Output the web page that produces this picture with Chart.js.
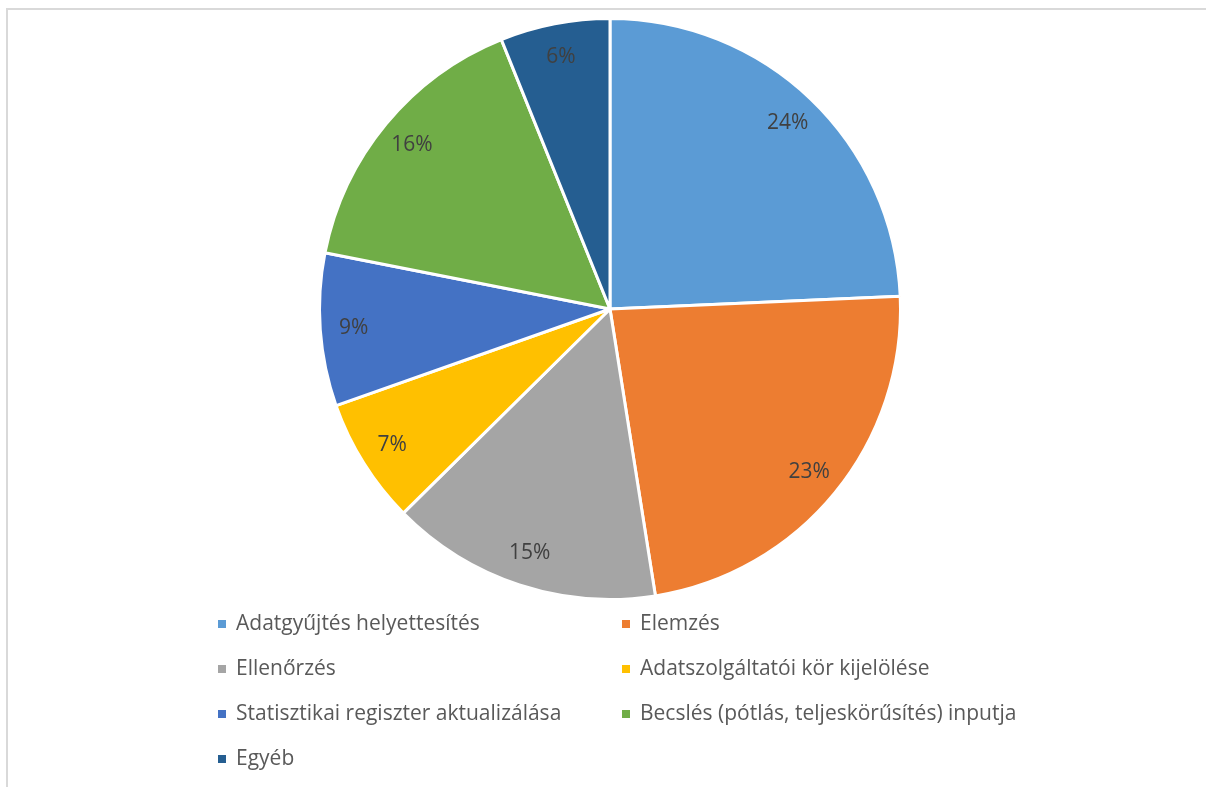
<!DOCTYPE html>
<html lang="hu">
<head>
<meta charset="utf-8">
<title>Pie</title>
<script src="https://cdn.jsdelivr.net/npm/chart.js@4.4.1/dist/chart.umd.min.js"></script>
<style>
    html, body { margin: 0; padding: 0; background: #fff; }
    #wrap { position: relative; width: 1206px; height: 787px; overflow: hidden; }
    #frame {
        position: absolute; left: 6px; top: 8px; width: 1300px; height: 900px;
        border-left: 2px solid #d9d9d9; border-top: 2px solid #d9d9d9;
    }
    canvas { position: absolute; left: 0; top: 0; }
</style>
</head>
<body>
<div id="wrap">
    <div id="frame"></div>
    <canvas id="pieChart" width="1206" height="787"></canvas>
</div>
<script>
// Adatok (százalék)
const categories = [
    'Adatgyűjtés helyettesítés',
    'Elemzés',
    'Ellenőrzés',
    'Adatszolgáltatói kör kijelölése',
    'Statisztikai regiszter aktualizálása',
    'Becslés (pótlás, teljeskörűsítés) inputja',
    'Egyéb'
];
const shares = [24.3, 23.2, 15.1, 7.0, 8.5, 15.8, 6.1];
const sliceColors = ['#5b9bd5', '#ed7d31', '#a5a5a5', '#ffc000', '#4472c4', '#70ad47', '#255e91'];

const FONT = "'Open Sans', 'Noto Sans', sans-serif";

// százalék feliratok a szeletek belső végén
const pctLabels = {
    id: 'pctLabels',
    afterDatasetsDraw(chart) {
        const ctx = chart.ctx;
        const meta = chart.getDatasetMeta(0);
        ctx.save();
        ctx.font = '21px ' + FONT;
        ctx.fillStyle = '#404040';
        ctx.textAlign = 'center';
        ctx.textBaseline = 'middle';
        meta.data.forEach((arc, i) => {
            const p = arc.getProps(['x', 'y', 'startAngle', 'endAngle', 'outerRadius'], true);
            const mid = (p.startAngle + p.endAngle) / 2;
            const r = p.outerRadius * 0.885;
            ctx.fillText(Math.round(shares[i]) + '%', p.x + Math.cos(mid) * r, p.y + Math.sin(mid) * r);
        });
        ctx.restore();
    }
};

// jelmagyarázat két oszlopban
const gridLegend = {
    id: 'gridLegend',
    afterDraw(chart) {
        const ctx = chart.ctx;
        const colX = [218, 622];
        const rowY0 = 624, rowGap = 45;
        ctx.save();
        ctx.font = '21px ' + FONT;
        ctx.textBaseline = 'middle';
        chart.data.labels.forEach((lab, i) => {
            const x = colX[i % 2];
            const y = rowY0 + Math.floor(i / 2) * rowGap;
            ctx.fillStyle = chart.data.datasets[0].backgroundColor[i];
            ctx.fillRect(x, y - 4, 8, 8);
            ctx.fillStyle = '#595959';
            ctx.fillText(lab, x + 18, y);
        });
        ctx.restore();
    }
};

const ctx = document.getElementById('pieChart').getContext('2d');
const pieChart = new Chart(ctx, {
    type: 'pie',
    data: {
        labels: categories,
        datasets: [{
            data: shares,
            backgroundColor: sliceColors,
            borderColor: '#ffffff',
            borderWidth: 3
        }]
    },
    options: {
        responsive: false,
        animation: false,
        layout: { padding: { top: 17, bottom: 186, left: 14, right: 0 } },
        plugins: {
            legend: { display: false },
            tooltip: { enabled: false }
        }
    },
    plugins: [pctLabels, gridLegend]
});
</script>
</body>
</html>
